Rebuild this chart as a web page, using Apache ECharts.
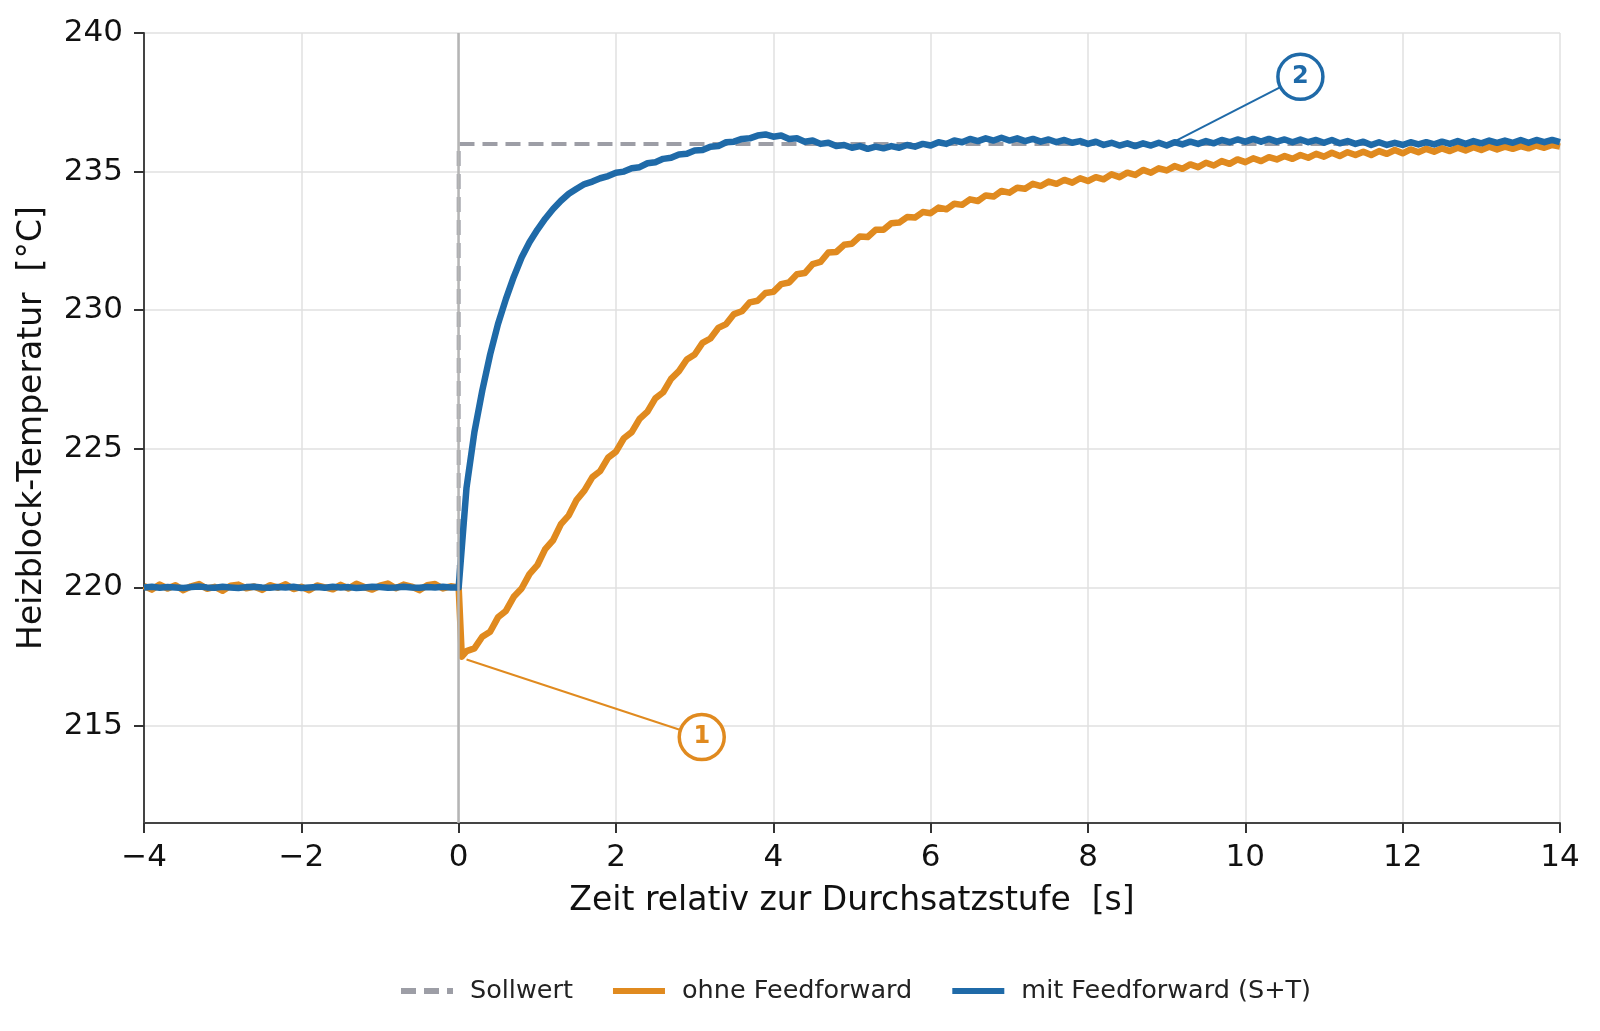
<!DOCTYPE html>
<html>
<head>
<meta charset="utf-8">
<script src="https://cdn.jsdelivr.net/npm/echarts@6/dist/echarts.min.js"></script>
<style>
  html, body { margin: 0; padding: 0; background: #fff; }
  #chart { width: 1600px; height: 1031px; }
</style>
</head>
<body>
<div id="chart"></div>
<script>
// time grid: samples every 0.1 s, plus one extra sample right after the step
var tStart = -4, tStep = 0.1;

// temperature before the step (t = -4 .. 0)
var ohnePre = [
  220.05, 219.92, 220.1, 219.96, 220.08, 219.9, 220.04, 220.12, 219.95, 220.02,
  219.88, 220.06, 220.1, 219.97, 220.03, 219.91, 220.08, 219.99, 220.11, 219.94,
  220.02, 219.9, 220.07, 220.0, 219.93, 220.09, 219.96, 220.13, 220.01, 219.92,
  220.06, 220.14, 219.97, 220.1, 220.03, 219.9, 220.08, 220.12, 219.96, 220.04,
  220.0
];
var mitPre = [
  220.0, 220.02, 219.99, 220.01, 220.0, 219.98, 220.01, 220.03, 220.0, 219.99,
  220.02, 220.0, 219.98, 220.01, 220.02, 220.0, 219.99, 220.01, 220.0, 220.02,
  219.98, 220.0, 220.01, 219.99, 220.02, 220.0, 220.01, 219.98, 220.0, 220.02,
  220.01, 219.99, 220.0, 220.02, 220.0, 219.99, 220.01, 220.0, 220.02, 220.0,
  220.0
];

// dip right after the step (ohne Feedforward)
var ohneDip = [0.04, 217.5];

// temperature after the step (t = 0.1 .. 14)
var ohnePost = [
  217.7, 217.8, 218.22, 218.4, 218.92, 219.15, 219.66, 219.96, 220.48, 220.8,
  221.38, 221.7, 222.28, 222.6, 223.16, 223.5, 223.98, 224.2, 224.68, 224.9,
  225.38, 225.6, 226.08, 226.34, 226.82, 227.04, 227.52, 227.8, 228.22, 228.4,
  228.82, 228.98, 229.36, 229.5, 229.86, 229.96, 230.28, 230.34, 230.62, 230.66,
  230.94, 231.0, 231.3, 231.34, 231.66, 231.74, 232.08, 232.1, 232.36, 232.4,
  232.66, 232.64, 232.9, 232.9, 233.14, 233.16, 233.36, 233.34, 233.54, 233.5,
  233.7, 233.64, 233.84, 233.8, 234.0, 233.94, 234.14, 234.1, 234.3, 234.24,
  234.42, 234.38, 234.56, 234.48, 234.64, 234.56, 234.7, 234.6, 234.76, 234.66,
  234.8, 234.72, 234.9, 234.8, 234.96, 234.88, 235.06, 234.96, 235.12, 235.04,
  235.2, 235.1, 235.26, 235.16, 235.32, 235.22, 235.38, 235.28, 235.44, 235.34,
  235.48, 235.38, 235.52, 235.44, 235.56, 235.46, 235.6, 235.5, 235.64, 235.54,
  235.68, 235.56, 235.7, 235.6, 235.72, 235.6, 235.74, 235.64, 235.78, 235.66,
  235.8, 235.7, 235.82, 235.72, 235.84, 235.74, 235.86, 235.76, 235.88, 235.78,
  235.9, 235.8, 235.9, 235.82, 235.92, 235.84, 235.94, 235.86, 235.96, 235.9
];
var mitPost = [
  223.6, 225.6, 227.1, 228.4, 229.5, 230.4, 231.2, 231.9, 232.45, 232.9,
  233.3, 233.65, 233.95, 234.2, 234.38, 234.55, 234.64, 234.76, 234.84, 234.96,
  235.0, 235.12, 235.16, 235.3, 235.34, 235.46, 235.5, 235.62, 235.64, 235.76,
  235.78, 235.9, 235.92, 236.06, 236.08, 236.18, 236.2, 236.3, 236.34, 236.26,
  236.3, 236.18, 236.2, 236.08, 236.12, 236.0, 236.04, 235.92, 235.96, 235.86,
  235.92, 235.82, 235.9, 235.84, 235.92, 235.86, 235.96, 235.9, 236.0, 235.94,
  236.06, 236.0, 236.12, 236.06, 236.18, 236.1, 236.2, 236.12, 236.22, 236.12,
  236.2, 236.1, 236.18, 236.08, 236.16, 236.06, 236.14, 236.04, 236.1, 236.0,
  236.08, 235.96, 236.04, 235.94, 236.02, 235.92, 236.02, 235.94, 236.04, 235.94,
  236.06, 235.98, 236.08, 236.0, 236.1, 236.02, 236.14, 236.06, 236.16, 236.08,
  236.18, 236.08, 236.18, 236.08, 236.16, 236.06, 236.16, 236.06, 236.14, 236.04,
  236.14, 236.02, 236.1, 236.0, 236.08, 235.96, 236.06, 235.96, 236.04, 235.96,
  236.06, 235.98, 236.06, 235.98, 236.08, 236.0, 236.1, 236.0, 236.1, 236.02,
  236.12, 236.04, 236.12, 236.04, 236.14, 236.04, 236.14, 236.06, 236.14, 236.06
];

// setpoint step
var sollwert = [[-4, 220], [0, 220], [0, 236], [14, 236]];

var yTicks = [215, 220, 225, 230, 235, 240];
var seriesNames = ['Sollwert', 'ohne Feedforward', 'mit Feedforward (S+T)'];

// annotations: [point on curve, circle centre], in data units
var anno1 = {text: '1', from: [0.1, 217.4], at: [3.09, 214.6]};
var anno2 = {text: '2', from: [9.09, 236.07], at: [10.7, 238.42]};

var orange = '#e08a1f';
var blue = '#1f6aa8';
var grey = '#9d9ea6';
var font = 'DejaVu Sans';

function buildSeries(pre, dip, post){
    var out = [];
    for(var i = 0; i < pre.length; i++){
        out.push([+(tStart + i * tStep).toFixed(2), pre[i]]);
    }
    if(dip) out.push(dip);
    for(var j = 0; j < post.length; j++){
        out.push([+((j + 1) * tStep).toFixed(2), post[j]]);
    }
    return out;
}

function annotation(a, color){
    return {
        markLine: {
            silent: true,
            symbol: ['none', 'none'],
            label: {show: false},
            lineStyle: {color: color, width: 2, type: 'solid'},
            data: [[{coord: a.from}, {coord: a.at}]],
            animation: false
        },
        markPoint: {
            silent: true,
            symbol: 'circle',
            symbolSize: 45,
            itemStyle: {color: '#ffffff', borderColor: color, borderWidth: 3.5},
            label: {
                show: true, position: 'inside', formatter: a.text,
                color: color, fontSize: 24, fontWeight: 'bold', fontFamily: font
            },
            data: [{coord: a.at}],
            animation: false
        }
    };
}

var myChart = echarts.init(document.getElementById('chart'));

var a1 = annotation(anno1, orange);
var a2 = annotation(anno2, blue);

var option = {
    animation: false,
    backgroundColor: '#ffffff',
    grid: {left: 144, right: 40, top: 33, bottom: 208},
    legend: {
        left: 393,
        top: 973,
        itemWidth: 52,
        itemHeight: 12,
        itemGap: 37,
        itemStyle: {opacity: 0},
        lineStyle: {width: 6},
        textStyle: {fontFamily: font, fontSize: 25.5, color: '#222', padding: [0, 0, 0, 12]},
        data: seriesNames
    },
    xAxis: {
        type: 'value',
        min: -4,
        max: 14,
        interval: 2,
        name: 'Zeit relativ zur Durchsatzstufe  [s]',
        nameLocation: 'middle',
        nameGap: 62,
        nameTextStyle: {fontFamily: font, fontSize: 33, color: '#111'},
        axisLine: {show: true, onZero: false, lineStyle: {color: '#444', width: 2}},
        axisTick: {show: true, length: 10, lineStyle: {color: '#333', width: 2}},
        axisLabel: {
            fontFamily: font, fontSize: 31, color: '#111', margin: 19,
            formatter: function(v){ return v < 0 ? '\u2212' + Math.abs(v) : String(v); }
        },
        splitLine: {show: true, lineStyle: {color: '#e0e0e0', width: 1.5}}
    },
    yAxis: {
        type: 'value',
        min: 211.5,
        max: 240,
        name: 'Heizblock-Temperatur  [°C]',
        nameLocation: 'middle',
        nameGap: 95,
        nameTextStyle: {fontFamily: font, fontSize: 33, color: '#111'},
        axisLine: {show: true, onZero: false, lineStyle: {color: '#444', width: 2}},
        axisTick: {show: true, length: 10, customValues: yTicks, lineStyle: {color: '#333', width: 2}},
        axisLabel: {fontFamily: font, fontSize: 31, color: '#111', margin: 21, padding: [8, 0, 0, 0], customValues: yTicks},
        splitLine: {show: true, lineStyle: {color: '#e0e0e0', width: 1.5}}
    },
    series: [
        {
            name: seriesNames[0],
            type: 'line',
            data: sollwert,
            symbol: 'none',
            showSymbol: false,
            lineStyle: {color: grey, width: 4, type: [15, 8]},
            itemStyle: {color: grey},
            z: 2,
            markLine: {
                silent: true,
                symbol: ['none', 'none'],
                label: {show: false},
                lineStyle: {color: '#b5b5b5', width: 2.5, type: 'solid'},
                data: [{xAxis: 0}],
                animation: false
            }
        },
        {
            name: seriesNames[1],
            type: 'line',
            data: buildSeries(ohnePre, ohneDip, ohnePost),
            symbol: 'none',
            showSymbol: false,
            lineStyle: {color: orange, width: 6.5, join: 'round'},
            itemStyle: {color: orange},
            z: 3,
            markLine: a1.markLine,
            markPoint: a1.markPoint
        },
        {
            name: seriesNames[2],
            type: 'line',
            data: buildSeries(mitPre, null, mitPost),
            symbol: 'none',
            showSymbol: false,
            lineStyle: {color: blue, width: 6.5, join: 'round'},
            itemStyle: {color: blue},
            z: 4,
            markLine: a2.markLine,
            markPoint: a2.markPoint
        }
    ]
};

myChart.setOption(option);
</script>
</body>
</html>
